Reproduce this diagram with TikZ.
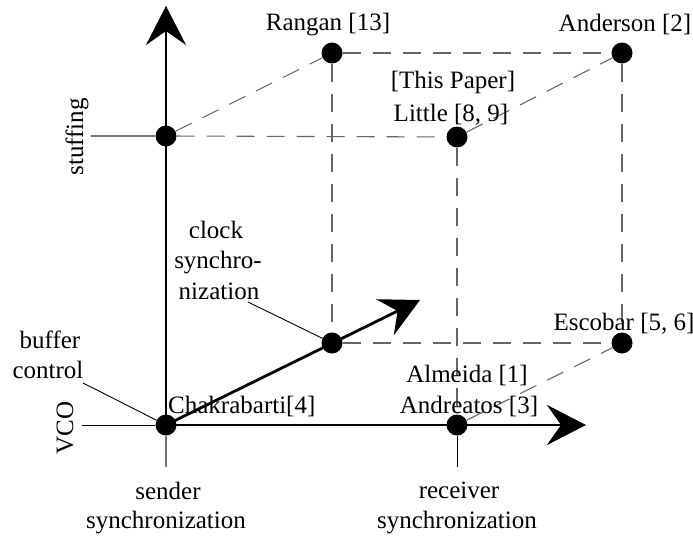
\documentclass[tikz,border=0pt]{standalone}
\usepackage{fontspec}
\setmainfont{Liberation Serif}
\usetikzlibrary{arrows.meta}
\begin{document}
\begin{tikzpicture}[x=1pt,y=-1pt,
  dot/.style={circle,fill=black,inner sep=0pt,minimum size=21pt},
  axis/.style={line width=2.8pt,-{Stealth[length=39pt,width=40pt,inset=14pt]}},
  dashline/.style={draw=black!60,line width=1.1pt,dash pattern=on 18pt off 12pt},
  tickg/.style={draw=black!55,line width=1.1pt},
  tickb/.style={draw=black,line width=0.9pt},
  lbl/.style={font=\fontsize{25}{30}\selectfont,inner sep=0pt,anchor=base}]
\useasboundingbox (0,0) rectangle (693,538);
% coordinates for free ends
\coordinate (ytip) at (166,6);
\coordinate (xtip) at (586,425);
\coordinate (dtip) at (420,300);
\coordinate (stk) at (91,136);
\coordinate (vtk) at (82,425);
\coordinate (otk) at (166,467);
\coordinate (mtk) at (457,467);
\coordinate (bufend) at (83,383);
\coordinate (clkend) at (248,302);
% dots
\node[dot] (O) at (166,425) {};
\node[dot] (S) at (166,136) {};
\node[dot] (R) at (332,53) {};
\node[dot] (A) at (622,53) {};
\node[dot] (L) at (457,137) {};
\node[dot] (C) at (332,343) {};
\node[dot] (E) at (622,343) {};
\node[dot] (M) at (457,425) {};
% dashed cube edges
\draw[dashline] (S) -- (L);
\draw[dashline] (S) -- (R);
\draw[dashline] (R) -- (A);
\draw[dashline] (R) -- (C);
\draw[dashline] (L) -- (A);
\draw[dashline] (L) -- (M);
\draw[dashline] (A) -- (E);
\draw[dashline] (C) -- (E);
\draw[dashline] (M) -- (E);
% ticks
\draw[tickg] (stk) -- (S);
\draw[tickb] (vtk) -- (O);
\draw[tickg] (O) -- (otk);
\draw[tickb] (M) -- (mtk);
% leaders
\draw[tickb] (bufend) -- (O);
\draw[tickb] (clkend) -- (C);
% axes
\draw[axis] (O.center) -- (ytip);
\draw[axis] (O.center) -- (xtip);
\draw[axis] (O.center) -- (dtip);
% labels
\node[lbl] (tR) at (328,30) {Rangan [13]};
\node[lbl] (tA) at (625,31) {Anderson [2]};
\node[lbl] (tP) at (453,88) {[This Paper]};
\node[lbl] (tL) at (451,121) {Little [8, 9]};
\node[lbl] (tc1) at (216,238) {clock};
\node[lbl] (tc2) at (218,268) {synchro-};
\node[lbl] (tc3) at (219,299) {nization};
\node[lbl] (tb1) at (50,348) {buffer};
\node[lbl] (tb2) at (48,378) {control};
\node[lbl,anchor=base west] (tK) at (168,413) {Chakrabarti[4]};
\node[lbl] (tM1) at (467,382) {Almeida [1]};
\node[lbl] (tM2) at (469,413) {Andreatos [3]};
\node[lbl] (tE) at (624,330) {Escobar [5, 6]};
\node[lbl] (tr1) at (459,498) {receiver};
\node[lbl] (tr2) at (457,528) {synchronization};
\node[lbl] (ts1) at (168,499) {sender};
\node[lbl] (ts2) at (166,528) {synchronization};
\node[lbl,rotate=90] (tS) at (83,137) {stuffing};
\node[lbl,rotate=90] (tV) at (73,428) {VCO};
\end{tikzpicture}
\end{document}
